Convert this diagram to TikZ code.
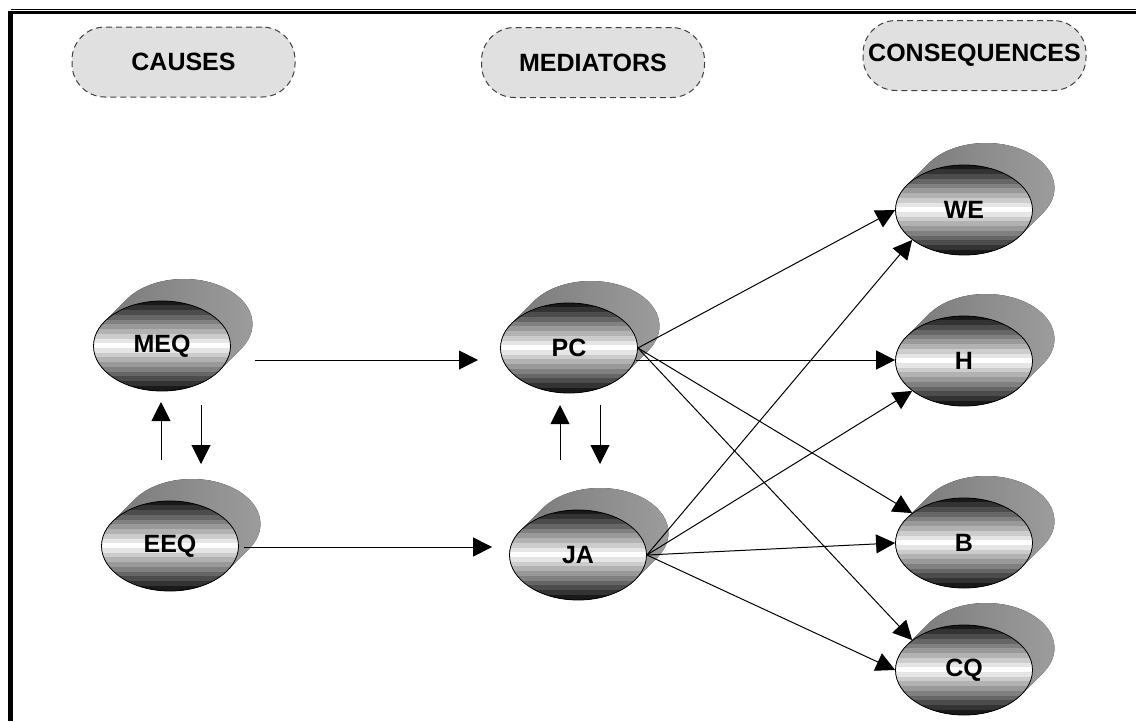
\documentclass[tikz,border=0pt]{standalone}
\usepackage{fontspec}
\setmainfont{Liberation Sans}
\usetikzlibrary{arrows.meta,calc,shapes.geometric}
\tikzset{
  cylface/.style={ellipse, draw=black, line width=0.8pt, minimum width=137pt,
    minimum height=90pt, inner sep=0pt, font=\bfseries\fontsize{25}{29}\selectfont},
  cylback/.style={left color=black!54, right color=black!38},
  header/.style={draw=black!75, line width=1pt, dash pattern=on 6pt off 4pt,
    fill=black!12, rounded corners=33pt, minimum width=223pt, minimum height=70pt,
    inner sep=0pt, font=\bfseries\fontsize{25}{29}\selectfont},
  link/.style={line width=1pt, -{Triangle[length=19pt,width=19pt]}},
}
% #1 name, #2 x, #3 y, #4 label
\newcommand\cylinder[4]{%
  \fill[cylback] ($(#2,#3)+(-57.3,24.7)$) -- ++(22,22)
    arc[start angle=146.7, end angle=-33.3, x radius=68.5pt, y radius=45pt]
    -- ($(#2,#3)+(57.3,-24.7)$)
    arc[start angle=-33.3, end angle=-213.3, x radius=68.5pt, y radius=45pt] -- cycle;
  \begin{scope}
    \clip (#2,#3) ellipse [x radius=68.5pt, y radius=45pt];
    \foreach \i in {0,...,18}{%
      \pgfmathtruncatemacro\pct{90*abs(\i-9)/9}%
      \fill[black!\pct] ({#2-70},{#3+45.4-\i*90/19}) rectangle ({#2+70},{#3+45-(\i+1)*90/19});
    }
  \end{scope}
  \node[cylface] (#1) at (#2,#3) {#4};
}
\begin{document}
\begin{tikzpicture}[x=1pt,y=1pt]
\useasboundingbox (0,0) rectangle (1136,-721);
% frame
\fill (8,-11) rectangle (13,-721);
\fill (8,-11) rectangle (1136,-14);
\fill (11,-8.8) rectangle (1136,-10.2);
% headers
\node[header] (causes) at (183.5,-62) {CAUSES};
\node[header] (mediators) at (593,-62.5) {MEDIATORS};
\node[header] (consequences) at (974.5,-55.5) {CONSEQUENCES};
% nodes
\cylinder{MEQ}{162}{-346}{MEQ}
\cylinder{EEQ}{170}{-546}{EEQ}
\cylinder{PC}{569}{-348}{PC}
\cylinder{JA}{578}{-555}{JA}
\cylinder{WE}{964}{-210}{WE}
\cylinder{H}{964}{-361}{H}
\cylinder{B}{964}{-543}{B}
\cylinder{CQ}{964}{-670}{CQ}
% connectors
\draw[link] ($(MEQ.center)+(93,-14)$) -- ($(PC.center)+(-91,-12)$);
\draw[link] ($(EEQ.east)+(5,-1)$) -- ($(JA.west)+(-17,8)$);
\draw[link] ($(EEQ.center)+(-9,86)$) -- ($(MEQ.center)+(-1,-56)$);
\draw[link] ($(MEQ.center)+(39,-59)$) -- ($(EEQ.center)+(31,82)$);
\draw[link] ($(JA.center)+(-18,95)$) -- ($(PC.center)+(-9,-57)$);
\draw[link] ($(PC.center)+(31,-57)$) -- ($(JA.center)+(22,91)$);
\draw[link] (PC.east) -- (WE.west);
\draw[link] ($(PC.east)+(-2,-12)$) -- ($(H.west)+(0,1)$);
\draw[link] (PC.east) -- (B.150);
\draw[link] (PC.east) -- (CQ.150);
\draw[link] (JA.east) -- (WE.210);
\draw[link] (JA.east) -- (H.210);
\draw[link] (JA.east) -- (B.west);
\draw[link] (JA.east) -- (CQ.west);
\end{tikzpicture}
\end{document}
